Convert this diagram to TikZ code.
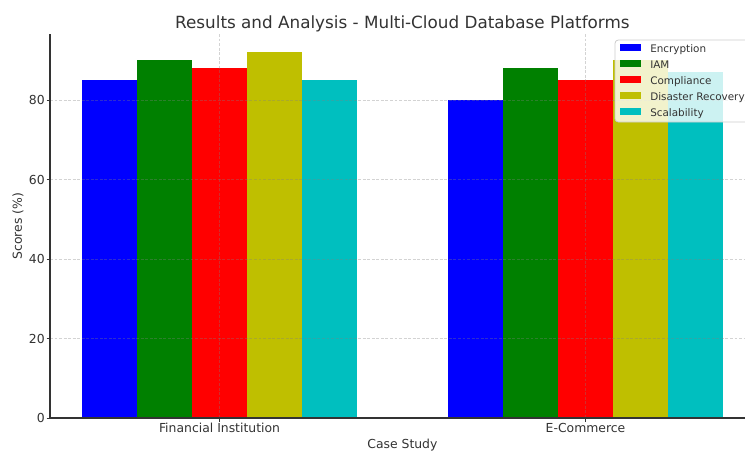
\documentclass[tikz,border=0pt]{standalone}
\usepackage{fontspec}
\setmainfont{DejaVu Sans}
\definecolor{cEnc}{RGB}{0,0,255}
\definecolor{cIam}{RGB}{0,128,0}
\definecolor{cCmp}{RGB}{255,0,0}
\definecolor{cDis}{RGB}{191,191,0}
\definecolor{cSca}{RGB}{0,191,191}
\definecolor{inkgray}{RGB}{51,51,51}
\begin{document}
\begin{tikzpicture}[x=0.75pt,y=-0.75pt,
  ticklabel/.style={font=\fontsize{9.3}{11}\selectfont, text=inkgray, inner sep=0pt},
  legendlabel/.style={font=\fontsize{7.8}{9}\selectfont, text=inkgray, inner sep=0pt, anchor=base west},
  titlelabel/.style={font=\fontsize{12.6}{15}\selectfont, text=inkgray, inner sep=0pt, anchor=base},
  gridline/.style={draw=gray, draw opacity=0.35, line width=0.6pt, dash pattern=on 2.2pt off 1.2pt},
  spine/.style={draw=inkgray, line width=0.8pt},
  tickmark/.style={draw=inkgray, line width=0.6pt}]
\useasboundingbox (0,0) rectangle (745,450);
\clip (0,0) rectangle (745,450);

% bars: five categories per case study, 0.15 units wide (1 unit = 366px)
\foreach \cx/\vals in {219.5/{85,90,88,92,85}, 585.5/{80,88,85,90,87}} {
  \foreach \v [count=\i from 0] in \vals {
    \pgfmathsetmacro\xl{\cx+(\i-2.5)*54.9}
    \pgfmathsetmacro\xr{\xl+54.9}
    \pgfmathsetmacro\yt{418-\v*3.975}
    \ifcase\i \def\bc{cEnc}\or \def\bc{cIam}\or \def\bc{cCmp}\or \def\bc{cDis}\or \def\bc{cSca}\fi
    \fill[\bc] (\xl,418) rectangle (\xr,\yt);
  }
}

% grid over the bars
\foreach \v in {20,40,60,80} {
  \draw[gridline] (50,418-\v*3.975) -- (760,418-\v*3.975);
}
\foreach \cx in {219.5,585.5} {
  \draw[gridline] (\cx,34) -- (\cx,418);
}

% axes
\draw[spine] (50,34) -- (50,418) -- (760,418);
\foreach \v in {0,20,40,60,80} {
  \draw[tickmark] (46.5,418-\v*3.975) -- (50,418-\v*3.975);
  \node[ticklabel, anchor=base east] (yt\v) at (45,422.6-\v*3.975) {\v};
}
\draw[tickmark] (219.5,418) -- (219.5,421.5);
\draw[tickmark] (585.5,418) -- (585.5,421.5);
\node[ticklabel, anchor=base] (xfin) at (219.5,432) {Financial Institution};
\node[ticklabel, anchor=base] (xeco) at (585.5,432) {E-Commerce};
\node[ticklabel, anchor=base] (xlab) at (402.4,448) {Case Study};
\node[ticklabel, rotate=90, anchor=center] (ylab) at (18,226) {Scores (\%)};

% title
\node[titlelabel] (title) at (402.4,28) {Results and Analysis - Multi-Cloud Database Platforms};

% legend
\draw[draw=black!20, fill=white, fill opacity=0.8, line width=0.6pt, rounded corners=2.5pt] (615,40) rectangle (790,122);
\foreach \c/\t [count=\j from 0] in {cEnc/Encryption, cIam/IAM, cCmp/Compliance, cDis/Disaster Recovery, cSca/Scalability} {
  \fill[\c] (620,44.3+\j*16) rectangle (641,51.3+\j*16);
  \node[legendlabel] (leg\j) at (650,52+\j*16) {\t};
}
\end{tikzpicture}
\end{document}
